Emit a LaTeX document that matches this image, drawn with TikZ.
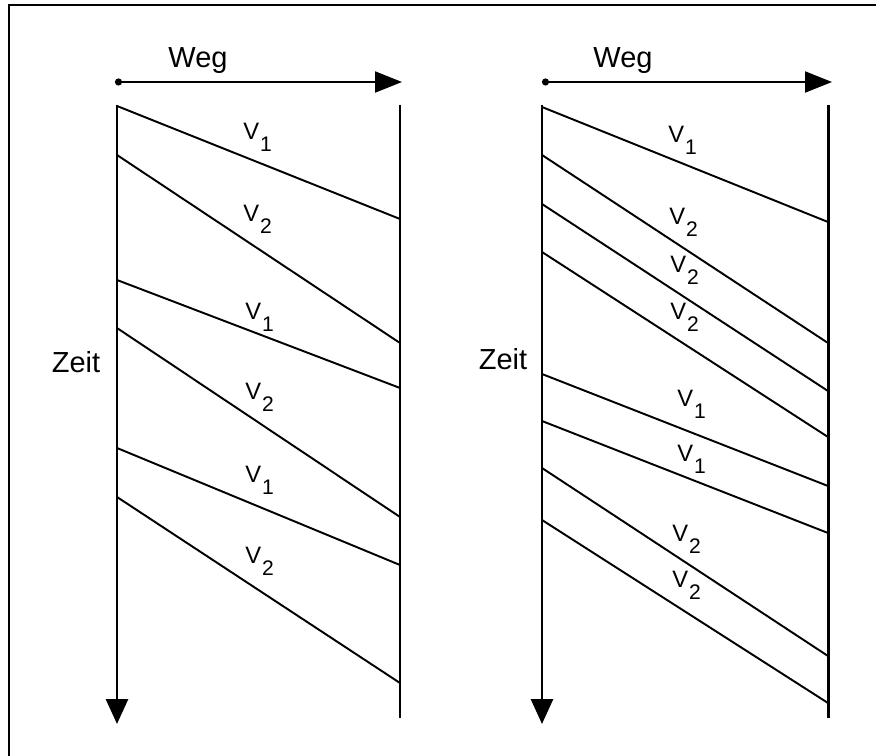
\documentclass[tikz,border=0pt]{standalone}
\usepackage{fontspec}
\setmainfont{Liberation Sans}
\usetikzlibrary{arrows.meta}
\newcommand{\vlab}[1]{V\kern0.5pt\raisebox{-0.5em}{\fontsize{12}{14}\selectfont #1}}
\tikzset{
  axis/.style={line width=1.7pt, -{Triangle[length=0.5cm,width=0.44cm]}},
  wall/.style={line width=1.7pt},
  way/.style={line width=1.1pt, {Circle[length=4pt]}-{Triangle[length=0.54cm,width=0.42cm]}},
  signal/.style={line width=1.1pt},
  lab/.style={anchor=base west, inner sep=0pt, font=\fontsize{13.5}{16}\selectfont},
  big/.style={anchor=base, inner sep=0pt, font=\fontsize{16.5}{19}\selectfont}
}
\begin{document}
\begin{tikzpicture}[x=0.02cm, y=-0.02cm]
  \useasboundingbox (0,0) rectangle (876,756);
  % frame
  \draw[line width=1.2pt] (9,756) -- (9,5) -- (876,5);
  % --- left diagram ---
  \coordinate (zl0) at (117,105); \coordinate (zl1) at (117,724);
  \coordinate (rl0) at (400,105); \coordinate (rl1) at (400,718);
  \coordinate (wl0) at (115,82);  \coordinate (wl1) at (402,82);
  \draw[axis] (zl0) -- (zl1);
  \draw[wall] (rl0) -- (rl1);
  \draw[way] (wl0) -- (wl1);
  \node[big] (wegl) at (198,68) {Weg};
  \node[big] (zeitl) at (76,373) {Zeit};
  % left signals
  \coordinate (la1) at (117,106); \coordinate (lb1) at (400,219);
  \coordinate (la2) at (117,155); \coordinate (lb2) at (400,343);
  \coordinate (la3) at (117,280); \coordinate (lb3) at (400,388);
  \coordinate (la4) at (117,328); \coordinate (lb4) at (400,517);
  \coordinate (la5) at (117,448); \coordinate (lb5) at (400,565);
  \coordinate (la6) at (117,497); \coordinate (lb6) at (400,683);
  \draw[signal] (la1) -- (lb1);  \node[lab] (lv1) at (243,140) {\vlab{1}};
  \draw[signal] (la2) -- (lb2);  \node[lab] (lv2) at (243,222) {\vlab{2}};
  \draw[signal] (la3) -- (lb3);  \node[lab] (lv3) at (245,320) {\vlab{1}};
  \draw[signal] (la4) -- (lb4);  \node[lab] (lv4) at (245,400) {\vlab{2}};
  \draw[signal] (la5) -- (lb5);  \node[lab] (lv5) at (245,483) {\vlab{1}};
  \draw[signal] (la6) -- (lb6);  \node[lab] (lv6) at (245,564) {\vlab{2}};
  % --- right diagram ---
  \coordinate (zr0) at (542,105); \coordinate (zr1) at (542,724);
  \coordinate (rr0) at (828,105); \coordinate (rr1) at (828,718);
  \coordinate (wr0) at (542,82);  \coordinate (wr1) at (832,82);
  \draw[axis] (zr0) -- (zr1);
  \draw[wall] (rr0) -- (rr1);
  \draw[way] (wr0) -- (wr1);
  \node[big] (wegr) at (623,68) {Weg};
  \node[big] (zeitr) at (503,370) {Zeit};
  % right signals
  \coordinate (ra1) at (542,107); \coordinate (rb1) at (828,222);
  \coordinate (ra2) at (542,155); \coordinate (rb2) at (828,343);
  \coordinate (ra3) at (542,204); \coordinate (rb3) at (828,391);
  \coordinate (ra4) at (542,252); \coordinate (rb4) at (828,437);
  \coordinate (ra5) at (542,374); \coordinate (rb5) at (828,486);
  \coordinate (ra6) at (542,421); \coordinate (rb6) at (828,533);
  \coordinate (ra7) at (542,468); \coordinate (rb7) at (828,656);
  \coordinate (ra8) at (542,520); \coordinate (rb8) at (828,703);
  \draw[signal] (ra1) -- (rb1);  \node[lab] (rv1) at (668,143) {\vlab{1}};
  \draw[signal] (ra2) -- (rb2);  \node[lab] (rv2) at (669,225) {\vlab{2}};
  \draw[signal] (ra3) -- (rb3);  \node[lab] (rv3) at (670,273) {\vlab{2}};
  \draw[signal] (ra4) -- (rb4);  \node[lab] (rv4) at (670,320) {\vlab{2}};
  \draw[signal] (ra5) -- (rb5);  \node[lab] (rv5) at (677,407) {\vlab{1}};
  \draw[signal] (ra6) -- (rb6);  \node[lab] (rv6) at (677,462) {\vlab{1}};
  \draw[signal] (ra7) -- (rb7);  \node[lab] (rv7) at (672,542) {\vlab{2}};
  \draw[signal] (ra8) -- (rb8);  \node[lab] (rv8) at (672,588) {\vlab{2}};
\end{tikzpicture}
\end{document}
